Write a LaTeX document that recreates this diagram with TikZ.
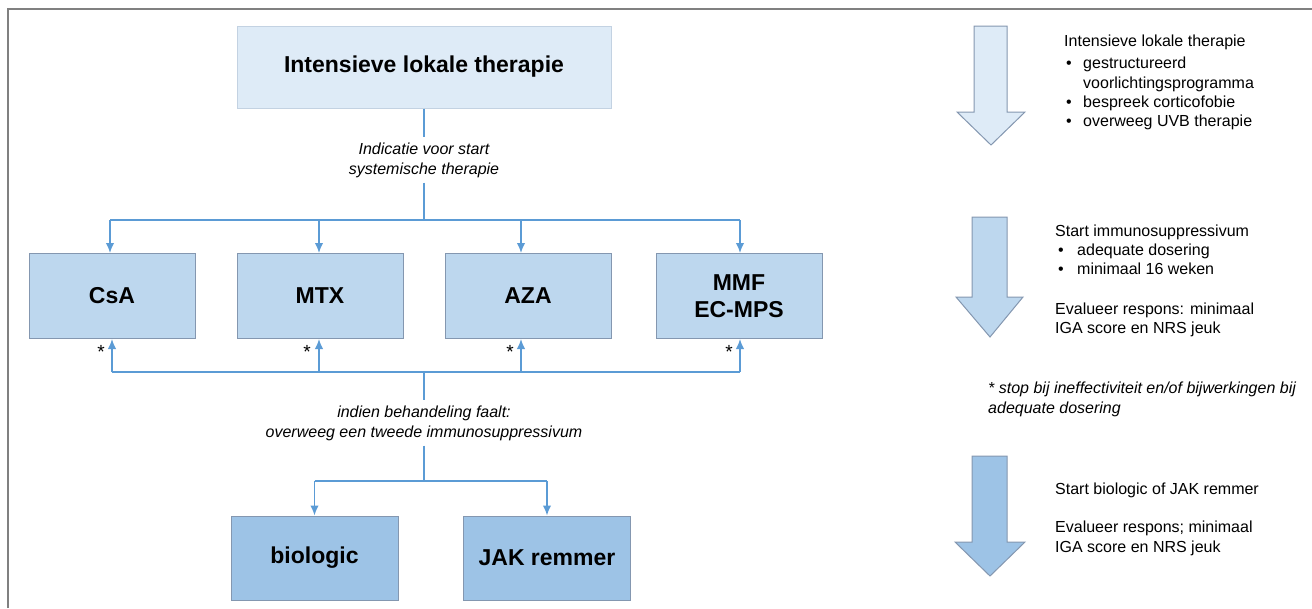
\documentclass[tikz,border=0pt]{standalone}
\usepackage{fontspec}
\setmainfont{Liberation Sans}
\usetikzlibrary{arrows.meta}
\definecolor{cL}{HTML}{DEEBF7}
\definecolor{cM}{HTML}{BDD7EE}
\definecolor{cD}{HTML}{9DC3E6}
\definecolor{cLine}{HTML}{5B9BD5}
\definecolor{cBorder}{HTML}{8497B0}
\definecolor{cFrame}{HTML}{808080}
\begin{document}
\begin{tikzpicture}[x=1pt,y=-1pt,
  box/.style={draw=cBorder, line width=1pt, minimum width=166pt, minimum height=85pt, inner sep=0pt, font=\fontsize{23}{27}\selectfont\bfseries, align=center},
  conn/.style={draw=cLine, line width=1.6pt},
  arr/.style={conn, -{Latex[length=10pt,width=8.5pt]}},
  lab/.style={font=\fontsize{16}{20}\selectfont\itshape, align=center, inner xsep=0pt, inner ysep=5pt},
  txt/.style={font=\fontsize{16}{20}\selectfont, anchor=base west, inner sep=0pt},
  itxt/.style={txt, font=\fontsize{16}{20}\selectfont\itshape},
  star/.style={font=\fontsize{19}{19}\selectfont, anchor=base, inner sep=0pt},
  bigarrow/.style={draw=cBorder, line width=1pt, line join=miter}
]
\useasboundingbox (0,0) rectangle (1312,608);
\draw[cFrame, line width=1.5pt] (8,608) -- (8,9) -- (1312,9);

% top box and first label
\node[box, fill=cL, draw=cL!70!cBorder, minimum width=374pt, minimum height=82pt] (top) at (424,67) {Intensieve lokale therapie};
\node[lab] (ind) at (424,160) {Indicatie voor start\\systemische therapie};
\coordinate (h1) at (424,220);
\draw[conn] (top.south) -- (ind.north);
\draw[conn] (ind.south) -- (h1);

% second row
\node[box, fill=cM] (csa) at (112,296) {CsA};
\node[box, fill=cM] (mtx) at (320,296) {MTX};
\node[box, fill=cM] (aza) at (528,296) {AZA};
\node[box, fill=cM] (mmf) at (739,296) {MMF\\EC-MPS};

\coordinate (d1) at (110,220);
\coordinate (d2) at (319,220);
\coordinate (d3) at (521,220);
\coordinate (d4) at (740,220);
\draw[conn] (d1) -- (d4);
\draw[arr] (d1) -- (d1 |- csa.north);
\draw[arr] (d2) -- (d2 |- mtx.north);
\draw[arr] (d3) -- (d3 |- aza.north);
\draw[arr] (d4) -- (d4 |- mmf.north);

\coordinate (u1) at (112,372);
\coordinate (u2) at (319,372);
\coordinate (u3) at (521,372);
\coordinate (u4) at (740,372);
\draw[conn] (u1) -- (u4);
\draw[arr] (u1) -- (u1 |- csa.south);
\draw[arr] (u2) -- (u2 |- mtx.south);
\draw[arr] (u3) -- (u3 |- aza.south);
\draw[arr] (u4) -- (u4 |- mmf.south);

\node[star] (s1) at (101,358) {*};
\node[star] (s2) at (307,358) {*};
\node[star] (s3) at (510,358) {*};
\node[star] (s4) at (729,358) {*};

% second label
\coordinate (h2) at (424,372);
\node[lab] (ind2) at (424,423) {indien behandeling faalt:\\overweeg een tweede immunosuppressivum};
\coordinate (h3) at (424,481);
\draw[conn] (h2) -- (ind2.north);
\draw[conn] (ind2.south) -- (h3);

% bottom row
\node[box, fill=cD, minimum width=167pt, minimum height=84pt] (bio) at (314.5,558) {biologic};
\node[box, fill=cD, minimum width=167pt, minimum height=84pt] (jak) at (547,558) {JAK remmer};
\coordinate (b1) at (314.5,481);
\coordinate (b2) at (547,481);
\draw[conn] (b1) -- (b2);
\draw[arr] (b1) -- (bio.north);
\draw[arr] (b2) -- (jak.north);

% right-hand big arrows
\draw[bigarrow, fill=cL] (974,26) -- (1007,26) -- (1007,112) -- (1025,112) -- (991,145) -- (957,112) -- (974,112) -- cycle;
\draw[bigarrow, fill=cM] (972,217) -- (1007,217) -- (1007,297) -- (1023,297) -- (990,337) -- (956,297) -- (972,297) -- cycle;
\draw[bigarrow, fill=cD] (972,456) -- (1007,456) -- (1007,542) -- (1025,542) -- (990,576) -- (955,542) -- (972,542) -- cycle;

% right-hand texts
\node[txt] (r1) at (1064,46) {Intensieve lokale therapie};
\node[txt] (r1b1) at (1066,68) {•};
\node[txt] (r1t1) at (1083,68) {gestructureerd};
\node[txt] (r1t1b) at (1083,88) {voorlichtingsprogramma};
\node[txt] (r1b2) at (1066,107) {•};
\node[txt] (r1t2) at (1083,107) {bespreek corticofobie};
\node[txt] (r1b3) at (1066,126) {•};
\node[txt] (r1t3) at (1083,126) {overweeg UVB therapie};

\node[txt] (r2) at (1055,236) {Start immunosuppressivum};
\node[txt] (r2b1) at (1058,255) {•};
\node[txt] (r2t1) at (1077,255) {adequate dosering};
\node[txt] (r2b2) at (1058,274) {•};
\node[txt] (r2t2) at (1077,274) {minimaal 16 weken};
\node[txt] (r2e1) at (1055,314) {Evalueer respons: minimaal};
\node[txt] (r2e2) at (1055,333) {IGA score en NRS jeuk};

\node[itxt] (fn1) at (988,393) {* stop bij ineffectiviteit en/of bijwerkingen bij};
\node[itxt] (fn2) at (988,413) {adequate dosering};

\node[txt] (r3) at (1055,494) {Start biologic of JAK remmer};
\node[txt] (r3e1) at (1055,532) {Evalueer respons; minimaal};
\node[txt] (r3e2) at (1055,552) {IGA score en NRS jeuk};
\end{tikzpicture}
\end{document}
